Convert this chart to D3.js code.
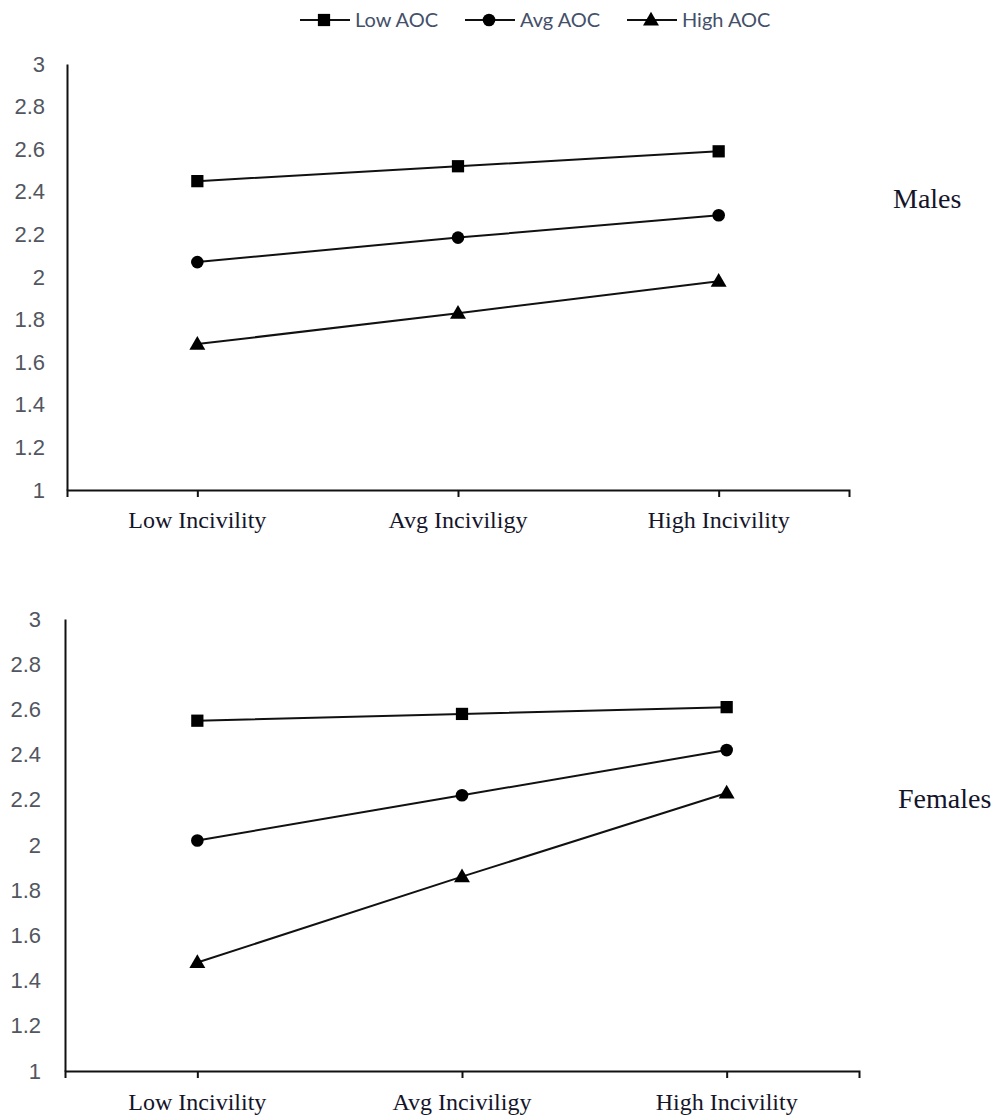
<!DOCTYPE html>
<html>
<head>
<meta charset="utf-8">
<script src="https://cdn.jsdelivr.net/npm/d3@7"></script>
<style>
html,body{margin:0;padding:0;background:#fff;}
svg{display:block;}
</style>
</head>
<body>
<div id="chart"></div>
<script>
// ---- data ----
const categories = ["Low Incivility", "Avg Inciviligy", "High Incivility"];
const seriesNames = ["Low AOC", "Avg AOC", "High AOC"];
const seriesSymbols = ["square", "circle", "triangle"];
const yTicks = [1, 1.2, 1.4, 1.6, 1.8, 2, 2.2, 2.4, 2.6, 2.8, 3];

const malesLowAOC  = [2.45, 2.52, 2.59];
const malesAvgAOC  = [2.07, 2.185, 2.29];
const malesHighAOC = [1.685, 1.83, 1.98];

const femalesLowAOC  = [2.55, 2.58, 2.61];
const femalesAvgAOC  = [2.02, 2.22, 2.42];
const femalesHighAOC = [1.48, 1.86, 2.23];

const panels = [
  {label: "Males", series: [malesLowAOC, malesAvgAOC, malesHighAOC],
   x0: 67, x1: 849, yTop: 64, yBot: 490, labelRight: 45, catBase: 528,
   lab: {x: 893, y: 208}},
  {label: "Females", series: [femalesLowAOC, femalesAvgAOC, femalesHighAOC],
   x0: 65, x1: 859, yTop: 619, yBot: 1071, labelRight: 41, catBase: 1110,
   lab: {x: 898, y: 808}}
];

const W = 999, H = 1118;
const svg = d3.select("#chart").append("svg").attr("width", W).attr("height", H);

const symType = {square: d3.symbolSquare, circle: d3.symbolCircle, triangle: d3.symbolTriangle};
const symSize = {square: 150, circle: 125, triangle: 110};

function drawSymbol(g, type, x, y) {
  g.append("path")
    .attr("d", d3.symbol().type(symType[type]).size(symSize[type])())
    .attr("transform", `translate(${x},${y + (type === "triangle" ? 1 : 0)})`)
    .attr("fill", "#000");
}

panels.forEach(p => {
  const g = svg.append("g");
  const x = d3.scalePoint().domain(categories).range([p.x0, p.x1]).padding(0.5);
  const y = d3.scaleLinear().domain([1, 3]).range([p.yBot, p.yTop]);

  // y axis
  const ya = g.append("g").attr("transform", `translate(${p.x0},0)`)
    .call(d3.axisLeft(y).tickValues(yTicks).tickSize(0).tickSizeOuter(0).tickPadding(p.x0 - p.labelRight).tickFormat(d3.format("")));
  ya.select(".domain").attr("stroke", "#111").attr("stroke-width", 2);
  ya.selectAll("text").attr("font-family", "'Liberation Sans', Arial, sans-serif")
    .attr("font-size", 22).attr("fill", "#52565f");

  // x axis
  const xa = g.append("g").attr("transform", `translate(0,${p.yBot})`)
    .call(d3.axisBottom(x).tickSize(7).tickSizeOuter(7).tickFormat(""));
  xa.select(".domain").attr("stroke", "#111").attr("stroke-width", 2);
  xa.selectAll(".tick line").attr("stroke", "#111").attr("stroke-width", 2);

  // category labels
  g.selectAll("text.cat").data(categories).enter().append("text")
    .attr("class", "cat")
    .attr("x", d => x(d)).attr("y", p.catBase)
    .attr("text-anchor", "middle")
    .attr("font-family", "'Liberation Serif', 'Times New Roman', serif")
    .attr("font-size", 24).attr("fill", "#14142a")
    .text(d => d);

  // series
  const line = d3.line().x((d, i) => x(categories[i])).y(d => y(d));
  p.series.forEach((vals, si) => {
    g.append("path").datum(vals).attr("d", line)
      .attr("fill", "none").attr("stroke", "#111").attr("stroke-width", 2);
    vals.forEach((v, i) => drawSymbol(g, seriesSymbols[si], x(categories[i]), y(v)));
  });

  // panel label
  g.append("text").attr("x", p.lab.x).attr("y", p.lab.y)
    .attr("font-family", "'Liberation Serif', 'Times New Roman', serif")
    .attr("font-size", 28).attr("fill", "#14142a").text(p.label);
});

// legend
const legendX = [300, 465, 627];
const leg = svg.append("g");
seriesNames.forEach((name, i) => {
  const lx = legendX[i], ly = 20;
  leg.append("line").attr("x1", lx).attr("x2", lx + 50).attr("y1", ly).attr("y2", ly)
    .attr("stroke", "#111").attr("stroke-width", 2);
  drawSymbol(leg, seriesSymbols[i], lx + 24, ly);
  leg.append("text").attr("x", lx + 55).attr("y", ly + 7)
    .attr("font-family", "Lato, 'Open Sans', sans-serif")
    .attr("font-size", 20).attr("fill", "#44506a").text(name);
});
</script>
</body>
</html>
